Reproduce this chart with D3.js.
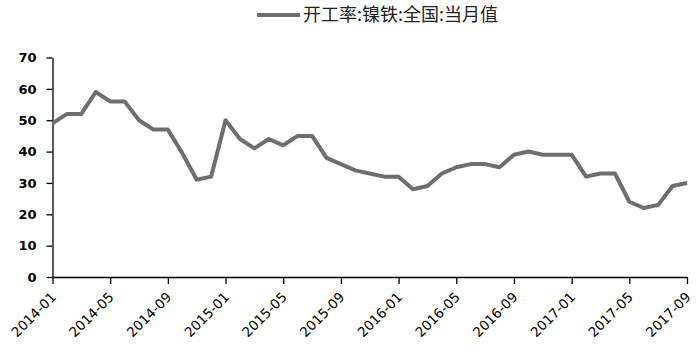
<!DOCTYPE html>
<html>
<head>
<meta charset="utf-8">
<script src="https://cdn.jsdelivr.net/npm/d3@7"></script>
<style>
  body { margin: 0; background: #fff; }
  svg { display: block; }
</style>
</head>
<body>
<script>
var seriesName = "开工率:镍铁:全国:当月值";
var months = [
  "2014-01","2014-02","2014-03","2014-04","2014-05","2014-06","2014-07","2014-08","2014-09","2014-10","2014-11","2014-12",
  "2015-01","2015-02","2015-03","2015-04","2015-05","2015-06","2015-07","2015-08","2015-09","2015-10","2015-11","2015-12",
  "2016-01","2016-02","2016-03","2016-04","2016-05","2016-06","2016-07","2016-08","2016-09","2016-10","2016-11","2016-12",
  "2017-01","2017-02","2017-03","2017-04","2017-05","2017-06","2017-07","2017-08","2017-09"
];
var values = [
  49, 52, 52, 59, 56, 56, 50, 47, 47, 39.5, 31, 32,
  50, 44, 41, 44, 42, 45, 45, 38, 36, 34, 33, 32,
  32, 28, 29, 33, 35, 36, 36, 35, 39, 40, 39, 39,
  39, 32, 33, 33, 24, 22, 23, 29, 30
];
var yTicks = [0, 10, 20, 30, 40, 50, 60, 70];
var xTickLabels = ["2014-01","2014-05","2014-09","2015-01","2015-05","2015-09","2016-01","2016-05","2016-09","2017-01","2017-05","2017-09"];

var width = 697, height = 355;
var margin = {left: 52.5, right: 10, top: 57.5, bottom: 78};

var svg = d3.select("body").append("svg")
  .attr("width", width)
  .attr("height", height);

var x = d3.scalePoint()
  .domain(months)
  .range([margin.left, width - margin.right]);

var y = d3.scaleLinear()
  .domain([0, 70])
  .range([height - margin.bottom, margin.top]);

// y axis
var yAxis = svg.append("g")
  .attr("transform", "translate(" + margin.left + ",0)")
  .call(d3.axisLeft(y).tickValues(yTicks).tickSize(6).tickSizeOuter(0).tickPadding(10));
yAxis.selectAll("text")
  .attr("font-family", "DejaVu Sans, sans-serif")
  .attr("font-size", "13px")
  .attr("font-weight", "bold")
  .attr("fill", "#000");
yAxis.selectAll("line, path").attr("stroke", "#000").attr("stroke-width", 1.3);

// x axis
var xAxis = svg.append("g")
  .attr("transform", "translate(0," + (height - margin.bottom) + ")")
  .call(d3.axisBottom(x).tickValues(xTickLabels).tickSize(7).tickSizeOuter(0));
xAxis.selectAll("line, path").attr("stroke", "#000").attr("stroke-width", 1.3);
xAxis.selectAll("text")
  .attr("font-family", "DejaVu Sans, sans-serif")
  .attr("font-size", "13.5px")
  .attr("fill", "#000")
  .attr("text-anchor", "end")
  .attr("x", 0)
  .attr("y", 0)
  .attr("dy", 0)
  .attr("transform", "translate(4,21) rotate(-45)");

// line
var line = d3.line()
  .x(function(d, i) { return x(months[i]); })
  .y(function(d) { return y(d); });

svg.append("path")
  .datum(values)
  .attr("fill", "none")
  .attr("stroke", "#6e6e6e")
  .attr("stroke-width", 4)
  .attr("stroke-linejoin", "round")
  .attr("d", line);

// legend
var lg = svg.append("g").attr("transform", "translate(257,15)");
lg.append("line")
  .attr("x1", 0).attr("x2", 43)
  .attr("stroke", "#6e6e6e")
  .attr("stroke-width", 4);
lg.append("text")
  .attr("x", 46)
  .attr("dy", "0.35em")
  .attr("font-family", "Noto Sans CJK SC, sans-serif")
  .attr("font-size", "18px")
  .attr("fill", "#222")
  .text(seriesName);
</script>
</body>
</html>
